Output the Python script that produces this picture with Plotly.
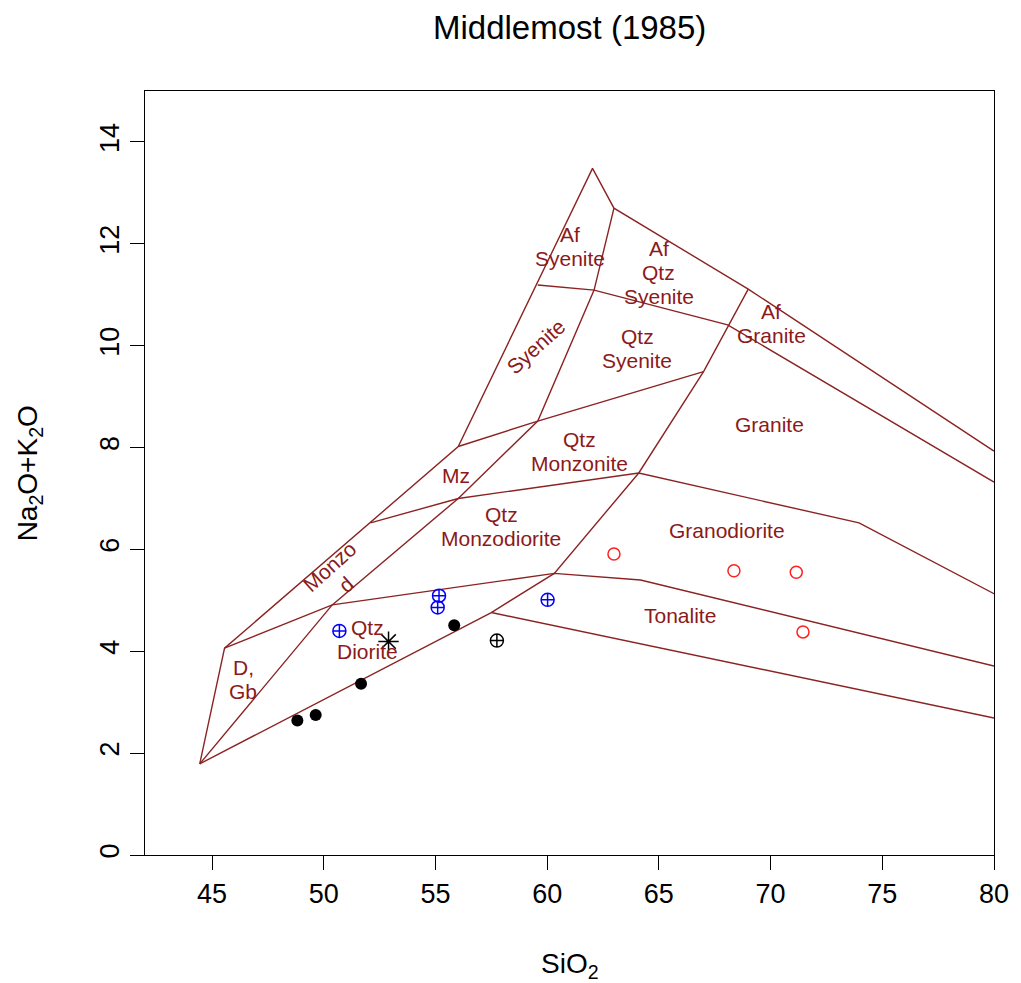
import math
import plotly.graph_objects as go

# ---- Field boundaries of the Middlemost (1985) plutonic TAS scheme ----
# (SiO2 wt%, Na2O+K2O wt%)
outer_x = [44.45, 45.56, 56.02, 62.03, 62.99, 69.0, 80.0]
outer_y = [1.79, 4.06, 8.02, 13.48, 12.70, 11.11, 7.93]

left_curve_x = [44.45, 50.38, 56.02, 59.58, 62.10, 62.99]
left_curve_y = [1.79, 4.91, 7.00, 8.52, 11.09, 12.70]

right_curve_x = [44.45, 57.50, 60.32, 64.10, 67.00, 69.00]
right_curve_y = [1.79, 4.76, 5.53, 7.50, 9.49, 11.11]

diorite_tonalite_top_x = [45.56, 50.38, 60.32, 64.18, 80.0]
diorite_tonalite_top_y = [4.06, 4.91, 5.53, 5.40, 3.71]

tonalite_bottom_x = [57.50, 80.0]
tonalite_bottom_y = [4.76, 2.69]

granodiorite_top_x = [52.09, 56.02, 64.10, 73.96, 80.0]
granodiorite_top_y = [6.52, 7.00, 7.50, 6.52, 5.13]

syenite_bottom_x = [56.02, 59.58, 67.00]
syenite_bottom_y = [8.02, 8.52, 9.49]

alkfeld_bottom_x = [59.58, 62.10, 68.08, 80.0]
alkfeld_bottom_y = [11.19, 11.09, 10.41, 7.32]

boundaries = [
    (outer_x, outer_y),
    (left_curve_x, left_curve_y),
    (right_curve_x, right_curve_y),
    (diorite_tonalite_top_x, diorite_tonalite_top_y),
    (tonalite_bottom_x, tonalite_bottom_y),
    (granodiorite_top_x, granodiorite_top_y),
    (syenite_bottom_x, syenite_bottom_y),
    (alkfeld_bottom_x, alkfeld_bottom_y),
]

# ---- Field names: lines of text, SiO2, Na2O+K2O, rotation ----
field_text = [["Af", "Syenite"], ["Af", "Qtz", "Syenite"], ["Af", "Granite"],
              ["Qtz", "Syenite"], ["Syenite"], ["Granite"], ["Granodiorite"],
              ["Tonalite"], ["Qtz", "Monzonite"], ["Mz"], ["Qtz", "Monzodiorite"],
              ["Monzo", "d"], ["Qtz", "Diorite"], ["D,", "Gb"]]
field_x = [61.0, 65.0, 70.04, 64.03, 59.5, 69.96, 68.03, 65.96, 61.43, 55.94,
           57.95, 50.63, 51.94, 46.4]
field_y = [11.94, 11.43, 10.43, 9.95, 9.98, 8.46, 6.37, 4.71, 7.93, 7.46,
           6.44, 5.49, 4.24, 3.44]
field_angle = [0, 0, 0, 0, -42, 0, 0, 0, 0, 0, 0, -42, 0, 0]

# ---- Samples ----
black_dot_sio2 = [48.82, 49.64, 51.67, 55.84]
black_dot_alk = [2.64, 2.75, 3.36, 4.51]

black_star_sio2 = [52.90]
black_star_alk = [4.19]

black_cross_sio2 = [57.75]
black_cross_alk = [4.21]

blue_cross_sio2 = [50.70, 55.16, 55.10, 60.02]
blue_cross_alk = [4.40, 5.09, 4.86, 5.01]

red_ring_sio2 = [62.99, 68.36, 71.15, 71.45]
red_ring_alk = [5.91, 5.58, 5.55, 4.38]

x_ticks = [45, 50, 55, 60, 65, 70, 75, 80]
y_ticks = [0, 2, 4, 6, 8, 10, 12, 14]

LINE_COL = "#8B2323"
TEXT_COL = "#8B1A1A"
FONT = "Liberation Sans, Arial, sans-serif"
LABEL_SIZE = 21
LINE_GAP = 24  # px between stacked label lines

MARGIN_L, MARGIN_R, MARGIN_T, MARGIN_B = 145, 17, 91, 128

fig = go.Figure()

for bx, by in boundaries:
    fig.add_trace(go.Scatter(x=bx, y=by, mode="lines",
                             line=dict(color=LINE_COL, width=1.4),
                             hoverinfo="skip", showlegend=False))

fig.add_trace(go.Scatter(x=black_dot_sio2, y=black_dot_alk, mode="markers",
                         marker=dict(symbol="circle", size=12, color="black"),
                         showlegend=False))
fig.add_trace(go.Scatter(x=black_star_sio2, y=black_star_alk, mode="markers",
                         marker=dict(symbol="asterisk-open", size=17, color="black",
                                     line=dict(color="black", width=1.5)),
                         showlegend=False))
fig.add_trace(go.Scatter(x=black_cross_sio2, y=black_cross_alk, mode="markers",
                         marker=dict(symbol="circle-cross-open", size=13, color="black",
                                     line=dict(color="black", width=1.5)),
                         showlegend=False))
fig.add_trace(go.Scatter(x=blue_cross_sio2, y=blue_cross_alk, mode="markers",
                         marker=dict(symbol="circle-cross-open", size=13, color="#0000FF",
                                     line=dict(color="#0000FF", width=1.5)),
                         showlegend=False))
fig.add_trace(go.Scatter(x=red_ring_sio2, y=red_ring_alk, mode="markers",
                         marker=dict(symbol="circle-open", size=12, color="#FF2020",
                                     line=dict(color="#FF2020", width=1.5)),
                         showlegend=False))

# stacked field names, each line centred like R's multi-line text
for lines, fx, fy, ang in zip(field_text, field_x, field_y, field_angle):
    n = len(lines)
    a = math.radians(-ang)
    for i, t in enumerate(lines):
        k = (i - (n - 1) / 2) * LINE_GAP
        fig.add_annotation(x=fx, y=fy, xref="x", yref="y", text=t, showarrow=False,
                           textangle=ang, xanchor="center", yanchor="middle",
                           xshift=k * math.sin(a), yshift=-k * math.cos(a),
                           font=dict(family=FONT, size=LABEL_SIZE, color=TEXT_COL))

PLOT_W = 1021 - MARGIN_L - MARGIN_R
PLOT_H = 983 - MARGIN_T - MARGIN_B

# title and axis titles
fig.add_annotation(text="Middlemost (1985)", xref="paper", yref="paper",
                   x=0.5, y=1 + (MARGIN_T - 28) / PLOT_H, showarrow=False,
                   xanchor="center", yanchor="middle",
                   font=dict(family=FONT, size=33, color="black"))
fig.add_annotation(text="SiO<sub>2</sub>", xref="paper", yref="paper",
                   x=0.5, y=-110 / PLOT_H, showarrow=False,
                   xanchor="center", yanchor="middle",
                   font=dict(family=FONT, size=28, color="black"))
fig.add_annotation(text="Na<sub>2</sub>O+K<sub>2</sub>O", xref="paper", yref="paper",
                   x=-(MARGIN_L - 28) / PLOT_W, y=0.5, showarrow=False, textangle=-90,
                   xanchor="center", yanchor="middle",
                   font=dict(family=FONT, size=28, color="black"))

axis_common = dict(showgrid=False, zeroline=False, showline=True, mirror=True,
                   linecolor="black", linewidth=1.2, ticks="outside", ticklen=14,
                   tickwidth=1.2, tickcolor="black",
                   tickfont=dict(family=FONT, size=27, color="black"))

fig.update_xaxes(range=[42, 80], tickvals=x_ticks, ticktext=[str(v) for v in x_ticks],
                 **axis_common)
fig.update_yaxes(range=[0, 15], tickvals=y_ticks, ticktext=[str(v) for v in y_ticks],
                 tickangle=-90, **axis_common)

fig.update_layout(width=1021, height=983, autosize=False,
                  margin=dict(l=MARGIN_L, r=MARGIN_R, t=MARGIN_T, b=MARGIN_B),
                  plot_bgcolor="white", paper_bgcolor="white",
                  showlegend=False)

fig.write_html("out.html")
